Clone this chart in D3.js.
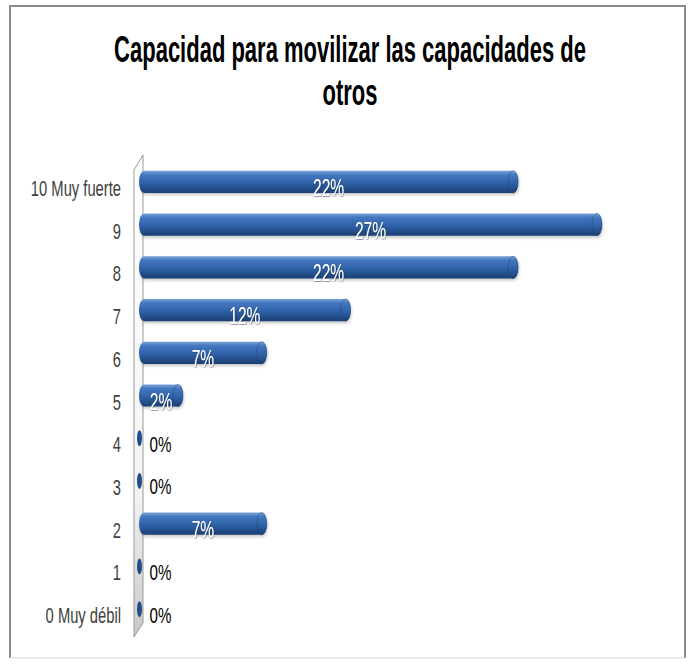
<!DOCTYPE html>
<html>
<head>
<meta charset="utf-8">
<script src="https://cdn.jsdelivr.net/npm/d3@7"></script>
<style>
  body { margin: 0; background: #fff; }
  svg { display: block; }
</style>
</head>
<body>
<div id="chart"></div>
<script>
var titleLines = ["Capacidad para movilizar las capacidades de", "otros"];
var categories = ["10 Muy fuerte", "9", "8", "7", "6", "5", "4", "3", "2", "1", "0 Muy débil"];
var percents = [22, 27, 22, 12, 7, 2, 0, 0, 7, 0, 0];

var width = 691, height = 666;
var labelFont = "'Liberation Sans', Arial, sans-serif";
// the picture is squeezed sideways and stretched up, so the text is too
var textScale = "scale(0.82 1.22)";

var svg = d3.select("#chart").append("svg")
  .attr("width", width).attr("height", height);

var defs = svg.append("defs");
var grad = defs.append("linearGradient").attr("id", "barGrad")
  .attr("x1", 0).attr("y1", 0).attr("x2", 0).attr("y2", 1);
grad.append("stop").attr("offset", "0%").attr("stop-color", "#7aa2d8");
grad.append("stop").attr("offset", "18%").attr("stop-color", "#4478c0");
grad.append("stop").attr("offset", "55%").attr("stop-color", "#2f62a8");
grad.append("stop").attr("offset", "100%").attr("stop-color", "#1b3f72");

var wallGrad = defs.append("linearGradient").attr("id", "wallGrad")
  .attr("x1", 0).attr("y1", 0).attr("x2", 0).attr("y2", 1);
wallGrad.append("stop").attr("offset", "0%").attr("stop-color", "#ffffff");
wallGrad.append("stop").attr("offset", "70%").attr("stop-color", "#f4f4f4");
wallGrad.append("stop").attr("offset", "100%").attr("stop-color", "#c8c8c8");

var shadow = defs.append("filter").attr("id", "barShadow")
  .attr("x", "-5%").attr("y", "-30%").attr("width", "110%").attr("height", "170%");
shadow.append("feDropShadow").attr("dx", 1).attr("dy", 2).attr("stdDeviation", 1.5)
  .attr("flood-color", "#000").attr("flood-opacity", 0.22);

var glow = defs.append("filter").attr("id", "textGlow")
  .attr("x", "-20%").attr("y", "-20%").attr("width", "140%").attr("height", "140%");
glow.append("feDropShadow").attr("dx", 0.5).attr("dy", 0.5).attr("stdDeviation", 0.6)
  .attr("flood-color", "#0d2547").attr("flood-opacity", 0.7);

// frame: grey on three sides, very faint at the bottom
svg.append("rect")
  .attr("x", 10).attr("y", 6).attr("width", 675).attr("height", 652)
  .attr("fill", "#fff").attr("stroke", "none");
svg.append("path")
  .attr("d", "M10,658 L10,6 L685,6 L685,658")
  .attr("fill", "none").attr("stroke", "#8a8a8a").attr("stroke-width", 2);
svg.append("line")
  .attr("x1", 10).attr("x2", 685).attr("y1", 658).attr("y2", 658)
  .attr("stroke", "#e4e4e4").attr("stroke-width", 1.5);

// title
var title = svg.append("g").attr("transform", "translate(350 0)");
title.selectAll("text").data(titleLines).enter().append("text")
  .attr("text-anchor", "middle")
  .attr("font-family", "'Liberation Sans', Arial, sans-serif")
  .attr("font-weight", "bold")
  .attr("font-size", "26.5px")
  .attr("fill", "#000")
  .attr("transform", function(d, i) { return "translate(0 " + (62 + i * 43) + ") scale(0.83 1.42)"; })
  .text(function(d) { return d; });

var y = d3.scaleBand().domain(categories).range([160.5, 630.5])
  .paddingInner(0.48).paddingOuter(0.24);
var x = d3.scaleLinear().domain([0, 27]).range([149.5, 602]);
var barLeft = 139;

// side wall of the 3D axis
var wallL = 134, wallR = 143;
svg.append("polygon")
  .attr("points", [[wallL, 170], [wallR, 155], [wallR, 623], [wallL, 637]].map(function(p) { return p.join(","); }).join(" "))
  .attr("fill", "url(#wallGrad)").attr("stroke", "#9a9a9a").attr("stroke-width", 1);

var rows = svg.selectAll("g.row").data(categories).enter().append("g").attr("class", "row");

rows.each(function(cat, i) {
  var g = d3.select(this);
  var v = percents[i];
  var bh = y.bandwidth();
  var cy = y(cat) + bh / 2;

  if (v > 0) {
    g.append("rect")
      .attr("x", barLeft).attr("y", y(cat))
      .attr("width", x(v) - barLeft).attr("height", bh)
      .attr("rx", 5).attr("ry", bh / 2)
      .attr("fill", "url(#barGrad)")
      .attr("filter", "url(#barShadow)");
    g.append("ellipse")
      .attr("cx", x(v) - 5).attr("cy", cy).attr("rx", 5).attr("ry", bh / 2)
      .attr("fill", "url(#barGrad)").attr("stroke", "#1b3f72").attr("stroke-opacity", 0.5).attr("stroke-width", 0.8);
    g.append("text")
      .attr("text-anchor", "middle")
      .attr("font-family", labelFont).attr("font-size", "19px")
      .attr("fill", "#fff").attr("filter", "url(#textGlow)")
      .attr("transform", "translate(" + ((barLeft + x(v)) / 2) + " " + (cy + 14) + ") " + textScale)
      .text(v + "%");
  } else {
    g.append("ellipse")
      .attr("cx", barLeft + 0.5).attr("cy", cy).attr("rx", 2.5).attr("ry", 8)
      .attr("fill", "#234d8a");
    g.append("text")
      .attr("font-family", labelFont).attr("font-size", "18.5px")
      .attr("fill", "#000")
      .attr("transform", "translate(" + x(0) + " " + (cy + 13.5) + ") " + textScale)
      .text(v + "%");
  }

  g.append("text")
    .attr("text-anchor", "end")
    .attr("font-family", labelFont).attr("font-size", "18px")
    .attr("fill", "#404040")
    .attr("transform", "translate(121 " + (cy + 14) + ") " + textScale)
    .text(cat);
});
</script>
</body>
</html>
